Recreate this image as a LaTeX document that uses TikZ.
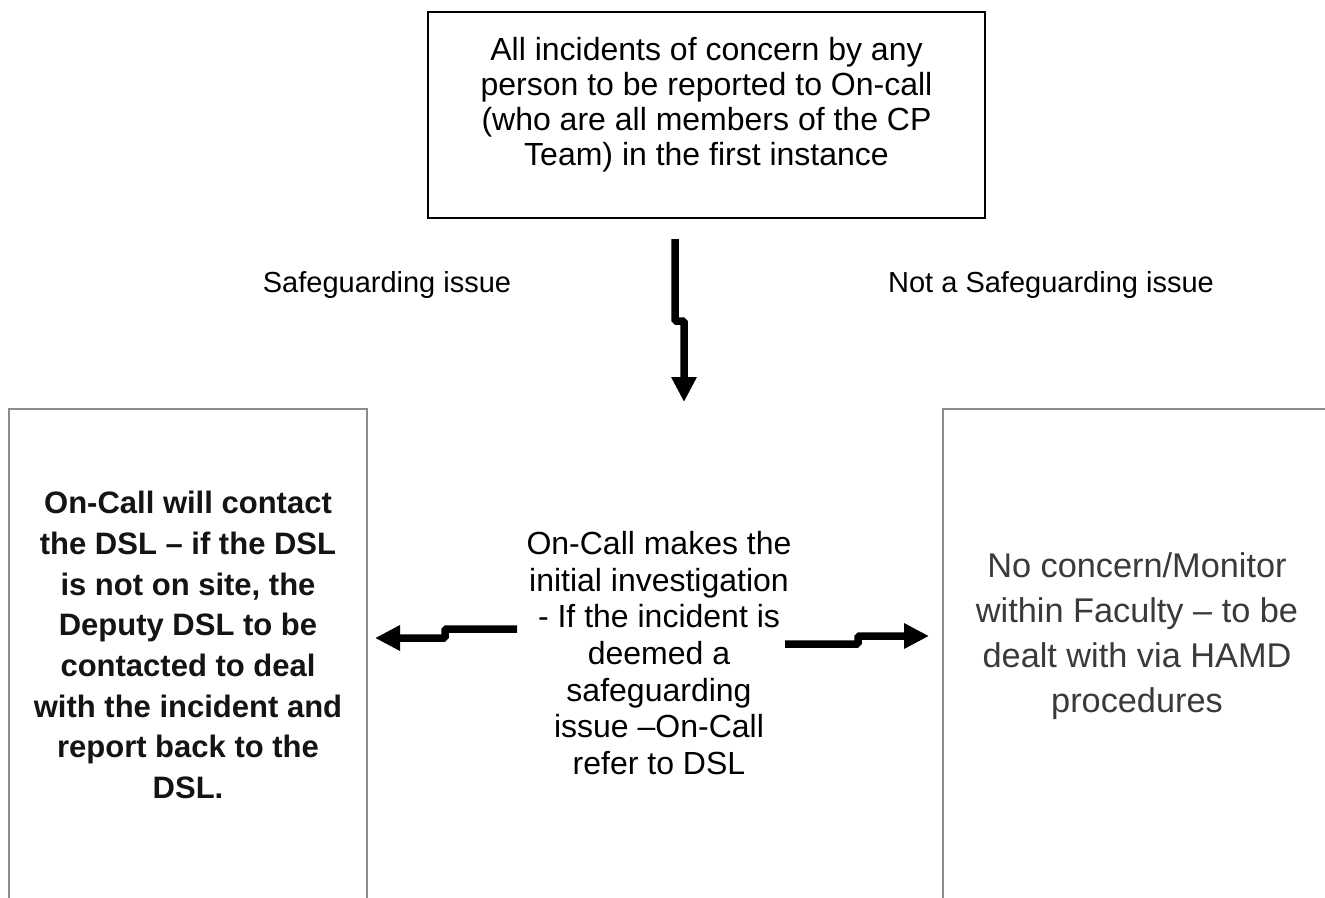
\documentclass[tikz,border=0pt]{standalone}
\usepackage{fontspec}
\setmainfont{Liberation Sans}
\usetikzlibrary{arrows.meta}
\definecolor{boxgray}{HTML}{8C8C8C}
\definecolor{leftink}{HTML}{141414}
\definecolor{rightink}{HTML}{3A3A3A}
\tikzset{
  topbox/.style={draw=black, line width=2pt, minimum width=557pt, minimum height=206pt, inner sep=0pt},
  sidebox/.style={draw=boxgray, line width=2pt, anchor=north west, inner sep=0pt},
  toptxt/.style={align=center, inner sep=0pt, font=\fontsize{32}{35}\selectfont},
  plaintxt/.style={align=center, inner sep=0pt, font=\fontsize{29}{35}\selectfont},
  midtxt/.style={align=center, inner sep=0pt, font=\fontsize{32}{36.6}\selectfont},
  lefttxt/.style={align=center, inner sep=0pt, text=leftink, font=\bfseries\fontsize{31}{40.7}\selectfont},
  righttxt/.style={align=center, inner sep=0pt, text=rightink, font=\fontsize{34.3}{45}\selectfont},
  flow/.style={line width=7.5pt, -{Triangle[width=24pt,length=25pt]}, rounded corners=1.5pt},
}
\begin{document}
\begin{tikzpicture}[x=1pt,y=-1pt]
\useasboundingbox (0,0) rectangle (1325,897);
\clip (0,0) rectangle (1325,897);
\fill[white] (0,0) rectangle (1325,897);

% boxes
\node[topbox] (top) at (706.5,115) {};
\node[sidebox, minimum width=358pt, minimum height=520pt] (leftbox) at (8,408) {};
\node[sidebox, minimum width=420pt, minimum height=520pt] (rightbox) at (941.5,408) {};

% texts
\node[toptxt] (toptext) at (706.5,104.5) {All incidents of concern by any\\person to be reported to On-call\\(who are all members of the CP\\Team) in the first instance};
\node[plaintxt] (lblsafe) at (387,285) {Safeguarding issue};
\node[plaintxt] (lblnot) at (1051,285) {Not a Safeguarding issue};
\node[midtxt] (mid) at (659,653) {On-Call makes the\\initial investigation\\- If the incident is\\deemed a\\safeguarding\\issue --On-Call\\refer to DSL};
\node[lefttxt] (lefttext) at (188,645) {On-Call will contact\\the DSL -- if the DSL\\is not on site, the\\Deputy DSL to be\\contacted to deal\\with the incident and\\report back to the\\DSL.};
\node[righttxt] (righttext) at (1137,636) {No concern/Monitor\\within Faculty -- to be\\dealt with via HAMD\\procedures};

% connector end points
\coordinate (downstart) at (675,239);
\coordinate (downend) at (684,402);
\coordinate (leftstart) at (517,629);
\coordinate (leftend) at (375,638);
\coordinate (rightstart) at (785,644);
\coordinate (rightend) at (929,636);

% connectors
\draw[flow] (downstart) -- (675,321) -- (684,321) -- (downend);
\draw[flow] (leftstart) -- (445,629) -- (445,638) -- (leftend);
\draw[flow] (rightstart) -- (858,644) -- (858,636) -- (rightend);
\end{tikzpicture}
\end{document}
